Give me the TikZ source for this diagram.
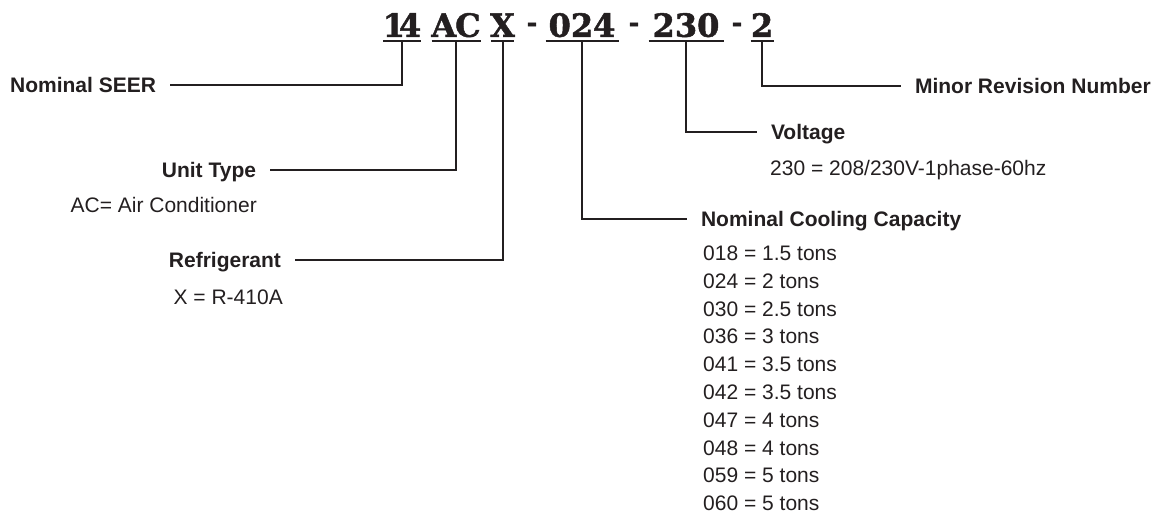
\documentclass[tikz,border=0pt]{standalone}
\usepackage{fontspec}
\usetikzlibrary{calc}
\setmainfont{Liberation Sans}
\newfontfamily\codefont{DejaVu Serif}[BoldFeatures={FakeBold=1.5}]
\definecolor{ink}{HTML}{231F20}
\begin{document}
\begin{tikzpicture}[x=1pt,y=1pt,
  conn/.style={line width=2pt, draw=ink, line join=miter},
  uline/.style={line width=2.6pt, draw=ink},
  code/.style={font=\codefont\bfseries\fontsize{32}{32}\selectfont, text=ink, inner xsep=0pt, inner ysep=4pt, text height=23pt, text depth=0pt, anchor=south},
  sepch/.style={font=\codefont\bfseries\fontsize{25}{25}\selectfont, text=ink, inner sep=0pt},
  head/.style={font=\bfseries\fontsize{21}{25}\selectfont, text=ink, inner sep=0pt, text height=15pt, text depth=0pt, outer xsep=14pt},
  desc/.style={font=\fontsize{21}{25}\selectfont, text=ink, inner sep=0pt, text height=15pt, text depth=0pt},
]
\useasboundingbox (0,0) rectangle (1165,-514);

% model number groups
\node[code] (c14) at (402,-41) {1\kern-6pt 4};
\node[code] (cAC) at (456,-41) {A\kern-1pt C};
\node[code] (cX) at (502.5,-41) {X};
\node[sepch] (d1) at (532,-27) {-};
\node[code] (c024) at (582,-41) {024};
\node[sepch] (d2) at (634,-27) {-};
\node[code] (c230) at (686,-41) {230};
\node[sepch] (d3) at (737,-27) {-};
\node[code] (c2) at (762,-41) {2};
\foreach \n/\w in {c14/38, cAC/49, cX/23, c024/73, c230/75, c2/23}
  \draw[uline] ($(\n.south)+({-\w/2},0)$) -- ($(\n.south)+({\w/2},0)$);

% headings
\node[head, anchor=east] (seer) at (170,-85) {Nominal SEER};
\node[head, anchor=east] (unit) at (270,-170) {Unit Type};
\node[head, anchor=east] (refr) at (295,-260) {Refrigerant};
\node[head, anchor=west] (minor) at (901,-86) {Minor Revision Number};
\node[head, anchor=west] (volt) at (757,-132) {Voltage};
\node[head, anchor=west] (cool) at (687,-219) {Nominal Cooling Capacity};

% connectors
\draw[conn] (c14.south) |- (seer.east);
\draw[conn] (cAC.south) |- (unit.east);
\draw[conn] (cX.south) |- (refr.east);
\draw[conn] (c2.south) |- (minor.west);
\draw[conn] (c230.south) |- (volt.west);
\draw[conn] (c024.south) |- (cool.west);

% descriptions
\node[desc, anchor=east] (acd) at (257,-205) {AC= Air Conditioner};
\node[desc, anchor=east] (xd) at (283,-297) {X = R-410A};
\node[desc, anchor=west] (vd) at (770,-168) {230 = 208/230V-1phase-60hz};
\foreach \t [count=\i from 0] in {018 = 1.5 tons, 024 = 2 tons, 030 = 2.5 tons, 036 = 3 tons, 041 = 3.5 tons, 042 = 3.5 tons, 047 = 4 tons, 048 = 4 tons, 059 = 5 tons, 060 = 5 tons}
  \node[desc, anchor=west] (cap\i) at (703,{-253-27.8*\i}) {\t};
\end{tikzpicture}
\end{document}
